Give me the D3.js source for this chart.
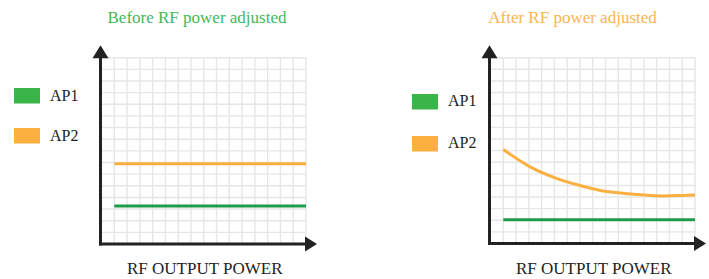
<!DOCTYPE html>
<html>
<head>
<meta charset="utf-8">
<script src="https://cdn.jsdelivr.net/npm/d3@7"></script>
<style>
  body { margin: 0; background: #fff; }
  svg { display: block; font-family: "Liberation Serif", "Times New Roman", serif; }
</style>
</head>
<body>
<div id="chart"></div>
<script>
// values, in grid units (16 x 16 cells)
var gridTicks = d3.range(1, 17)
var seriesNames = ['AP1', 'AP2']
var titles = ['Before RF power adjusted', 'After RF power adjusted']
var axisLabel = 'RF OUTPUT POWER'

var beforeX = [1, 16]
var beforeAP1 = [3.26, 3.26]
var beforeAP2 = [6.9, 6.9]

var afterX = [1, 3.1, 4.95, 7, 9.1, 11.2, 13.25, 15, 16]
var afterAP2 = [8.1, 6.6, 5.7, 5.0, 4.47, 4.25, 4.1, 4.14, 4.18]
var afterAP1X = [1, 16]
var afterAP1 = [2.05, 2.05]

var colors = {AP1: '#3bb54a', AP2: '#fbb040'}
var lineColors = {AP1: '#1f9a48', AP2: '#f9b040'}
var titleColors = ['#45b957', '#fbb552']

var svg = d3.select('#chart').append('svg').attr('width', 709).attr('height', 279)

var panels = [
  {x0: 101.5, x1: 306, y0: 244, y1: 57.7, titleX: 197, legendX: 14, legendY: [88, 128], textDy: 13,
   series: [{name: 'AP1', x: beforeX, y: beforeAP1}, {name: 'AP2', x: beforeX, y: beforeAP2}]},
  {x0: 490.5, x1: 695, y0: 243.5, y1: 57.7, titleX: 572.5, legendX: 412, legendY: [94, 136], textDy: 12,
   series: [{name: 'AP1', x: afterAP1X, y: afterAP1}, {name: 'AP2', x: afterX, y: afterAP2}]}
]

panels.forEach(function(p, i) {
  var g = svg.append('g')
  var x = d3.scaleLinear().domain([0, 16]).range([p.x0, p.x1])
  var y = d3.scaleLinear().domain([0, 16]).range([p.y0, p.y1])

  // grid
  g.append('g').selectAll('line.v').data(gridTicks).enter().append('line')
    .attr('x1', function(d) { return x(d) }).attr('x2', function(d) { return x(d) })
    .attr('y1', y(0)).attr('y2', y(16))
    .attr('stroke', '#e6e6e6').attr('stroke-width', 1.4)
  g.append('g').selectAll('line.h').data(gridTicks).enter().append('line')
    .attr('x1', x(0)).attr('x2', x(16))
    .attr('y1', function(d) { return y(d) }).attr('y2', function(d) { return y(d) })
    .attr('stroke', '#e6e6e6').attr('stroke-width', 1.4)

  // series
  p.series.forEach(function(s) {
    var pts = s.x.map(function(v, k) { return [v, s.y[k]] })
    var line = d3.line().x(function(d) { return x(d[0]) }).y(function(d) { return y(d[1]) })
      .curve(d3.curveCatmullRom.alpha(0.5))
    g.append('path').datum(pts).attr('d', line)
      .attr('fill', 'none').attr('stroke', lineColors[s.name]).attr('stroke-width', 3)
  })

  // axes with arrow heads
  var ax = x(0) - 1
  var ay = y(0)
  g.append('line').attr('x1', ax).attr('x2', ax).attr('y1', ay + 1.5).attr('y2', y(16) - 1)
    .attr('stroke', '#222').attr('stroke-width', 3)
  g.append('line').attr('x1', ax - 1.5).attr('x2', x(16)).attr('y1', ay).attr('y2', ay)
    .attr('stroke', '#222').attr('stroke-width', 3)
  g.append('path')
    .attr('d', 'M' + ax + ',' + (y(16) - 12.5) + 'L' + (ax + 8) + ',' + (y(16) + 0.5) + 'L' + (ax - 8) + ',' + (y(16) + 0.5) + 'Z')
    .attr('fill', '#222')
  g.append('path')
    .attr('d', 'M' + (x(16) + 11) + ',' + ay + 'L' + (x(16) - 1) + ',' + (ay - 7.5) + 'L' + (x(16) - 1) + ',' + (ay + 7.5) + 'Z')
    .attr('fill', '#222')

  // title
  g.append('text').attr('x', p.titleX).attr('y', 23).attr('text-anchor', 'middle')
    .attr('font-size', 17).attr('fill', titleColors[i]).text(titles[i])

  // x label
  g.append('text').attr('x', (x(0) + x(16)) / 2 + 1).attr('y', 274).attr('text-anchor', 'middle')
    .attr('font-size', 17).attr('fill', '#222').text(axisLabel)

  // legend
  seriesNames.forEach(function(name, k) {
    g.append('rect').attr('x', p.legendX).attr('y', p.legendY[k]).attr('width', 26).attr('height', 15.5)
      .attr('fill', colors[name])
    g.append('text').attr('x', p.legendX + 36).attr('y', p.legendY[k] + p.textDy)
      .attr('font-size', 16).attr('fill', '#222').text(name)
  })
})
</script>
</body>
</html>
